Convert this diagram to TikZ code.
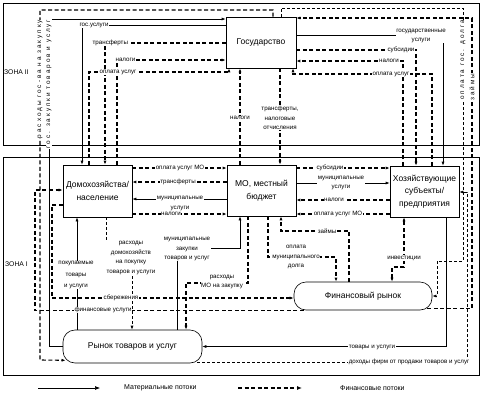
\documentclass[tikz,border=0pt]{standalone}
\usepackage{fontspec}
\setmainfont{Liberation Sans}
\usetikzlibrary{arrows.meta, calc}

\begin{document}
\begin{tikzpicture}[x=1pt, y=-1pt,
  box/.style={rectangle, draw, line width=0.6pt, inner sep=1pt, align=center, font=\fontsize{8.5}{12.5}\selectfont},
  market/.style={box, rounded corners=12pt},
  lbl/.style={fill=white, inner sep=0.4pt, align=center, font=\fontsize{6.2}{9.5}\selectfont},
  rotLbl/.style={lbl, rotate=90, font=\fontsize{6.4}{8}\selectfont\addfontfeatures{LetterSpace=30}},
  zoneLbl/.style={anchor=west, inner sep=0pt, font=\fontsize{6.8}{8}\selectfont},
  legLbl/.style={anchor=west, inner sep=0pt, font=\fontsize{7}{8}\selectfont},
  matFlow/.style={-{Latex[length=4pt, width=3pt]}, line width=0.6pt},
  finFlow/.style={-{Latex[length=4pt, width=3pt]}, line width=1.1pt, dash pattern=on 4pt off 2.5pt},
  finThin/.style={-{Latex[length=4pt, width=3pt]}, line width=0.6pt, dash pattern=on 3pt off 2pt}
]
\useasboundingbox (0,0) rectangle (482,407);
% zones
\draw[line width=0.6pt] (3,3) rectangle (479,145);
\draw[line width=0.6pt] (3,157) rectangle (479,375);
\node[zoneLbl] (zone2) at (4,72) {ЗОНА II};
\node[zoneLbl] (zone1) at (5,264) {ЗОНА I};
% agents
\node[box, minimum width=70pt, minimum height=51pt] (gov) at (261,42.5) {Государство};
\node[box, minimum width=69pt, minimum height=52pt] (hh) at (97.5,191) {Домохозяйства/\\население};
\node[box, minimum width=69pt, minimum height=51pt] (mo) at (261.5,190.5) {МО, местный\\бюджет};
\node[box, minimum width=69pt, minimum height=51pt] (ent) at (424.5,191.5) {Хозяйствующие\\субъекты/\\предприятия};
\node[market, minimum width=138pt, minimum height=28pt] (fin) at (363,296) {Финансовый рынок};
\node[market, minimum width=139pt, minimum height=33pt] (mkt) at (132.5,346.5) {Рынок товаров и услуг};
% zone II, left
\draw[finFlow] (gov.north -| 273,0) -- (273,10) -- (40,10) -- (40,360) -- ($(mkt.south west)+(3,-3)$);
\draw[matFlow] (mkt.west) -| (49,19) -- (gov.west |- 0,19);
\draw[matFlow] (gov.west |- 0,25) -| (hh.north -| 82,0);
\draw[finFlow] (gov.west |- 0,43) -| (hh.north -| 105,0);
\draw[finFlow] (hh.north -| 117,0) |- (gov.west |- 0,60);
\draw[finFlow] (hh.north -| 89,0) |- (229,72) -- (gov.south -| 229,0);
\node[rotLbl] (lRashGos) at (40,79) {расходы гос-ва на закупку};
\node[rotLbl] (lZakGos) at (49,84) {гос. закупки товаров и услуг};
\node[lbl, anchor=west] (lGosUsl) at (79,25) {гос.услуги};
\node[lbl, anchor=west] (lTransf) at (92,43) {трансферты};
\node[lbl, anchor=west] (lNalog1) at (115,60) {налоги};
\node[lbl, anchor=west] (lOplUsl1) at (99,72) {оплата услуг};
% zone II, centre
\draw[finFlow] (mo.north -| 240,0) -- (gov.south -| 240,0);
\draw[finFlow] (gov.south -| 280,0) -- (mo.north -| 280,0);
\node[lbl] (lNalog2) at (240,118) {налоги};
\node[lbl] (lTransf2) at (280,118) {трансферты,\\налоговые\\отчисления};
% zone II, right
\draw[matFlow] (gov.east |- 0,35) -| (ent.north -| 443,0);
\draw[finFlow] (gov.east |- 0,50) -| (ent.north -| 416,0);
\draw[finFlow] (ent.north -| 403,0) |- (gov.east |- 0,61);
\draw[finFlow] (ent.north -| 432,0) |- (293,74) -- (gov.south -| 293,0);
\draw[finThin] (gov.north -| 281,0) |- (463,8) |- (437,261) |- (fin.east);
\draw[finFlow] ($(fin.south east)+(-5,-2)$) -| (472,18) -- (gov.east |- 0,18);
\draw[finThin] ($(mkt.south east)+(-5,-1)$) -| (467,192) -- (ent.east |- 0,192);
\draw[matFlow] (ent.south -| 446,0) |- (mkt.east);
\node[lbl] (lGosUsl2) at (421,36) {государственные\\услуги};
\node[lbl] (lSubs1) at (401,50) {субсидии};
\node[lbl] (lNalog3) at (389,61) {налоги};
\node[lbl] (lOplUsl2) at (391,74) {оплата услуг};
\node[rotLbl] (lOplDolg) at (463,60) {оплата гос. долга};
\node[rotLbl] (lZaim1) at (472,87) {займы};
% zone I, households and MO
\draw[finFlow] (hh.east |- 0,168) -- (mo.west |- 0,168);
\draw[finFlow] (mo.west |- 0,182) -- (hh.east |- 0,182);
\draw[matFlow] (mo.west |- 0,199) -- (hh.east |- 0,199);
\draw[finFlow] (hh.east |- 0,214) -- (mo.west |- 0,214);
\node[lbl] (lOplMO1) at (180,168) {оплата услуг МО};
\node[lbl] (lTransf3) at (178,182) {трансферты};
\node[lbl] (lMunUsl1) at (180,203.5) {муниципальные\\услуги};
\node[lbl] (lNalog4) at (171,214) {налоги};
% zone I, MO and enterprises
\draw[finFlow] (mo.east |- 0,168) -- (ent.west |- 0,168);
\draw[matFlow] (mo.east |- 0,183) -- (ent.west |- 0,183);
\draw[finFlow] (ent.west |- 0,200) -- (mo.east |- 0,200);
\draw[finFlow] (ent.west |- 0,214) -- (mo.east |- 0,214);
\node[lbl] (lSubs2) at (330,168) {субсидии};
\node[lbl] (lMunUsl2) at (341,183) {муниципальные\\услуги};
\node[lbl] (lNalog5) at (334,200) {налоги};
\node[lbl] (lOplMO2) at (338,214) {оплата услуг МО};
% zone I, markets
\draw[finFlow] ($(fin.south west)+(10,0)$) -| (35,190) -- (hh.west |- 0,190);
\draw[finFlow] (hh.west |- 0,205) -| (52,298) -- (fin.west |- 0,298);
\draw[matFlow] (mkt.north -| 77,0) -- (hh.south -| 77,0);
\draw[finThin] (hh.south -| 106,0) |- (132,250) -- (mkt.north -| 132,0);
\draw[matFlow] (mkt.north -| 177,0) |- (240,248) -- (mo.south -| 240,0);
\draw[finFlow] (mo.south -| 248,0) |- (186,283) -- (mkt.north -| 186,0);
\draw[finFlow] (fin.north -| 349,0) |- (281,231) -- (mo.south -| 281,0);
\draw[finFlow] (mo.south -| 268,0) |- (336,257) -- (fin.north -| 336,0);
\draw[finFlow, {Latex[length=4pt, width=3pt]}-{Latex[length=4pt, width=3pt]}] (fin.north -| 392,0) |- (404,267) -- (ent.south -| 404,0);
\node[lbl] (lFinUsl) at (103,310) {финансовые услуги};
\node[lbl] (lSber) at (121,298) {сбережения};
\node[lbl] (lPokup) at (76,275) {покупаемые\\[2pt]товары\\[2pt]и услуги};
\node[lbl] (lRashHH) at (131,258) {расходы\\домохозяйств\\на покупку\\товаров и услуги};
\node[lbl] (lMunZak) at (187,249) {муниципальные\\закупки\\товаров и услуг};
\node[lbl] (lRashMO) at (222,282) {расходы\\МО на закупку};
\node[lbl] (lZaim2) at (327,231) {займы};
\node[lbl] (lOplMun) at (296,257) {оплата\\муниципального\\долга};
\node[lbl] (lInv) at (404,258) {инвестиции};
\node[lbl] (lTovUsl) at (372,347) {товары и услуги};
\node[lbl, anchor=east] (lDohod) at (470,362) {доходы фирм от продажи товаров и услуг};
% legend
\coordinate (legMatA) at (38,388);
\coordinate (legMatB) at (100,388);
\draw[matFlow, -{Latex[length=5pt, width=4pt]}] (legMatA) -- (legMatB);
\node[legLbl] (legMat) at (124,388) {Материальные потоки};
\coordinate (legFinA) at (238,388);
\coordinate (legFinB) at (302,388);
\draw[finFlow, -{Latex[length=5pt, width=4pt]}] (legFinA) -- (legFinB);
\node[legLbl] (legFin) at (340,388) {Финансовые потоки};
\end{tikzpicture}
\end{document}
